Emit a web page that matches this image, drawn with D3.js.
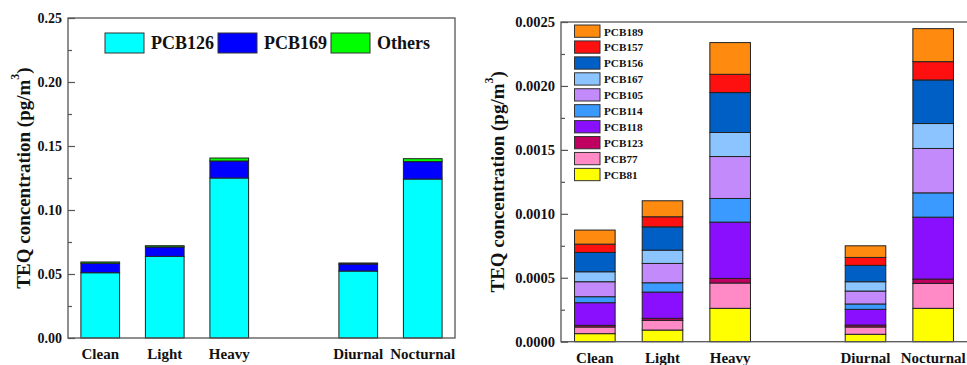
<!DOCTYPE html>
<html>
<head>
<meta charset="utf-8">
<script src="https://cdn.jsdelivr.net/npm/d3@7"></script>
<style>
  body { margin: 0; background: #fff; }
  text { font-family: "Liberation Serif", "Times New Roman", serif; font-weight: bold; fill: #111; }
</style>
</head>
<body>
<div class="canvas"></div>
<script>
// categories (blank slot keeps the gap between the two groups)
const categories = ['Clean', 'Light', 'Heavy', '', 'Diurnal', 'Nocturnal']
const barCats = ['Clean', 'Light', 'Heavy', 'Diurnal', 'Nocturnal']

// left panel: TEQ of the main congeners (pg/m3)
const leftSeries = ['PCB126', 'PCB169', 'Others']
const pcb126 = [0.0510, 0.0638, 0.1250, 0.0523, 0.1242]
const pcb169 = [0.0074, 0.0073, 0.0133, 0.0055, 0.0136]
const others = [0.0010, 0.0010, 0.0023, 0.0008, 0.0023]
const leftTicks = [0, 0.05, 0.10, 0.15, 0.20, 0.25]

// right panel: minor congeners, bottom to top
const rightSeries = ['PCB81', 'PCB77', 'PCB123', 'PCB118', 'PCB114', 'PCB105', 'PCB167', 'PCB156', 'PCB157', 'PCB189']
const pcb81  = [0.000063, 0.000091, 0.000261, 0.000058, 0.000261]
const pcb77  = [0.000052, 0.000076, 0.000198, 0.000057, 0.000195]
const pcb123 = [0.000013, 0.000016, 0.000036, 0.000015, 0.000034]
const pcb118 = [0.000177, 0.000205, 0.000440, 0.000123, 0.000484]
const pcb114 = [0.000047, 0.000073, 0.000185, 0.000042, 0.000190]
const pcb105 = [0.000117, 0.000151, 0.000328, 0.000101, 0.000347]
const pcb167 = [0.000078, 0.000104, 0.000188, 0.000073, 0.000195]
const pcb156 = [0.000151, 0.000182, 0.000312, 0.000128, 0.000341]
const pcb157 = [0.000065, 0.000079, 0.000143, 0.000062, 0.000143]
const pcb189 = [0.000110, 0.000125, 0.000248, 0.000091, 0.000258]
const rightTicks = [0, 0.0005, 0.0010, 0.0015, 0.0020, 0.0025]

const leftColors = ['#00FFFF', '#0000FF', '#00FF00']
const rightColors = ['#FFFF00', '#FF8AC6', '#C00060', '#8A0FFF', '#3A9AFF', '#C28AFA', '#8CC4FF', '#005FC4', '#FF1010', '#FF8A10']

const leftValues = [pcb126, pcb169, others]
const rightValues = [pcb81, pcb77, pcb123, pcb118, pcb114, pcb105, pcb167, pcb156, pcb157, pcb189]

const svg = d3.select('.canvas').append('svg').attr('width', 967).attr('height', 365)

function buildRows(series, values) {
    return barCats.map((c, i) => {
        const row = { cat: c }
        series.forEach((s, j) => { row[s] = values[j][i] })
        return row
    })
}

function panel(opt) {
    const g = svg.append('g')
    const x = d3.scaleBand().domain(categories).range([opt.left, opt.right]).paddingInner(0.4).paddingOuter(0.2)
    const y = d3.scaleLinear().domain([0, opt.max]).range([opt.bottom, opt.top])

    const stacked = d3.stack().keys(opt.series)(buildRows(opt.series, opt.values))

    g.selectAll('g.layer').data(stacked).enter().append('g')
        .attr('fill', (d, i) => opt.colors[i])
        .selectAll('rect').data(d => d).enter().append('rect')
        .attr('x', d => x(d.data.cat))
        .attr('width', x.bandwidth())
        .attr('y', d => y(d[1]))
        .attr('height', d => y(d[0]) - y(d[1]))
        .attr('stroke', '#222')
        .attr('stroke-width', 1)

    // frame
    g.append('rect')
        .attr('x', opt.left).attr('y', opt.top)
        .attr('width', opt.frameRight - opt.left).attr('height', opt.bottom - opt.top)
        .attr('fill', 'none').attr('stroke', '#555').attr('stroke-width', 1.3)

    // y axis, ticks inside
    const minor = d3.range(0, opt.ticks.length - 1).map(i => (opt.ticks[i] + opt.ticks[i + 1]) / 2)
    const yMinor = g.append('g').attr('transform', `translate(${opt.left},0)`)
        .call(d3.axisLeft(y).tickValues(minor).tickSizeInner(-4).tickSizeOuter(0).tickFormat(''))
    const yAxis = g.append('g').attr('transform', `translate(${opt.left},0)`)
        .call(d3.axisLeft(y).tickValues(opt.ticks).tickSizeInner(-7).tickSizeOuter(0).tickPadding(6).tickFormat(d3.format(opt.fmt)))
    ;[yMinor, yAxis].forEach(a => {
        a.select('.domain').remove()
        a.selectAll('line').attr('stroke', '#555').attr('stroke-width', 1.2)
    })
    yAxis.selectAll('text').attr('font-size', opt.tickFont).attr('fill', '#111')
        .attr('font-family', '"Liberation Serif", "Times New Roman", serif').attr('font-weight', 'bold')

    // category labels
    g.selectAll('text.cat').data(barCats).enter().append('text')
        .attr('x', d => x(d) + x.bandwidth() / 2)
        .attr('y', opt.bottom + 21)
        .attr('text-anchor', 'middle')
        .attr('font-size', 15)
        .text(d => d)

    // y title
    const cy = (opt.top + opt.bottom) / 2
    const t = g.append('text')
        .attr('transform', `translate(${opt.titleX},${cy}) rotate(-90)`)
        .attr('text-anchor', 'middle')
        .attr('dominant-baseline', 'central')
        .attr('font-size', 19)
    t.append('tspan').text('TEQ concentration (pg/m')
    t.append('tspan').attr('font-size', 12).attr('dy', -8).text('3')
    t.append('tspan').attr('dy', 8).text(')')

    return g
}

panel({
    left: 68, right: 455, frameRight: 455, top: 18, bottom: 338, max: 0.25,
    series: leftSeries, values: leftValues, colors: leftColors,
    ticks: leftTicks, fmt: '.2f', tickFont: 14, titleX: 23
})

const rightG = panel({
    left: 561, right: 967, frameRight: 970, top: 22, bottom: 341.7, max: 0.0025,
    series: rightSeries, values: rightValues, colors: rightColors,
    ticks: rightTicks, fmt: '.4f', tickFont: 14.5, titleX: 497
})

// left legend, horizontal
const legL = svg.append('g')
leftSeries.forEach((s, i) => {
    const lx = 105 + i * 113
    legL.append('rect').attr('x', lx).attr('y', 33).attr('width', 39).attr('height', 20)
        .attr('fill', leftColors[i]).attr('stroke', '#333').attr('stroke-width', 1)
    legL.append('text').attr('x', lx + 46).attr('y', 43).attr('dominant-baseline', 'central')
        .attr('font-size', 18).text(s)
})

// right legend, vertical, top entry is the top of the stack
const legR = svg.append('g')
rightSeries.slice().reverse().forEach((s, i) => {
    const ci = rightSeries.length - 1 - i
    const ly = 25 + i * 15.93
    legR.append('rect').attr('x', 574.5).attr('y', ly).attr('width', 25.5).attr('height', 12.3)
        .attr('fill', rightColors[ci]).attr('stroke', '#333').attr('stroke-width', 1)
    legR.append('text').attr('x', 604).attr('y', ly + 6.5).attr('dominant-baseline', 'central')
        .attr('font-size', 11.2).text(s)
})
</script>
</body>
</html>
